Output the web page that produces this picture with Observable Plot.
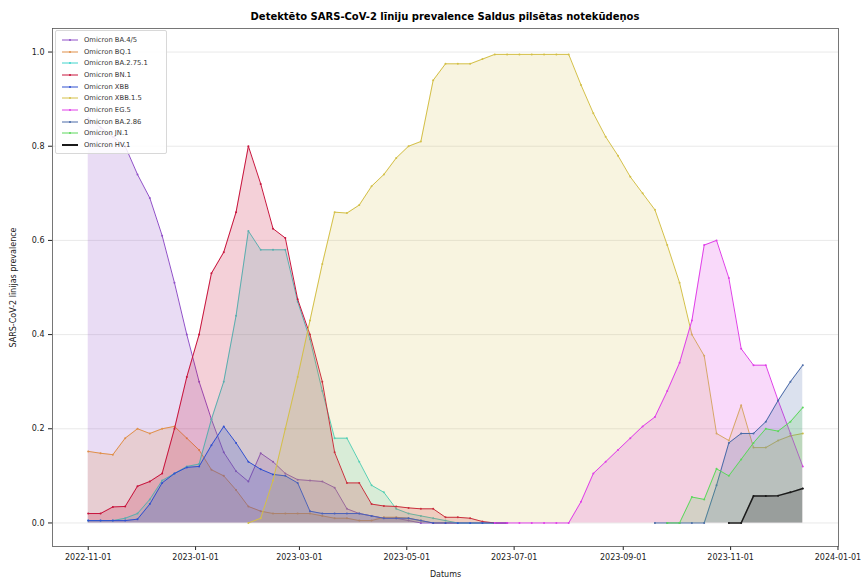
<!DOCTYPE html>
<html><head><meta charset="utf-8">
<script src="https://cdn.jsdelivr.net/npm/d3@7"></script>
<script src="https://cdn.jsdelivr.net/npm/@observablehq/plot@0.6"></script>
<style>
body{margin:0;background:#fff;font-family:"DejaVu Sans",sans-serif;}
#wrap{position:relative;width:863px;height:577px;overflow:hidden;background:#fff;}
#title{position:absolute;left:52px;width:786px;top:11px;text-align:center;font-weight:bold;font-size:10px;color:#000;white-space:nowrap;}
#chart{position:absolute;left:0;top:24px;}
#legend{position:absolute;left:55px;top:30px;width:110px;padding:3px 0 2px 0;background:rgba(255,255,255,0.85);border:1px solid #d8d8d8;border-radius:2px;}
.row{display:flex;align-items:center;height:11.7px;font-size:6.8px;color:#333;white-space:nowrap;}
.row svg{margin-left:6px;margin-right:6px;}
</style></head>
<body><div id="wrap"><div id="title">Detektēto SARS-CoV-2 līniju prevalence Saldus pilsētas notekūdeņos</div><div id="chart"></div><div id="legend"></div></div>
<script>
const dates = ["2022-11-01","2022-11-08","2022-11-15","2022-11-22","2022-11-29","2022-12-06","2022-12-13","2022-12-20","2022-12-27",
"2023-01-03","2023-01-10","2023-01-17","2023-01-24","2023-01-31","2023-02-07","2023-02-14","2023-02-21","2023-02-28",
"2023-03-07","2023-03-14","2023-03-21","2023-03-28","2023-04-04","2023-04-11","2023-04-18","2023-04-25",
"2023-05-02","2023-05-09","2023-05-16","2023-05-23","2023-05-30","2023-06-06","2023-06-13","2023-06-20","2023-06-27",
"2023-07-04","2023-07-11","2023-07-18","2023-07-25","2023-08-01","2023-08-08","2023-08-15","2023-08-22","2023-08-29",
"2023-09-05","2023-09-12","2023-09-19","2023-09-26","2023-10-03","2023-10-10","2023-10-17","2023-10-24","2023-10-31",
"2023-11-07","2023-11-14","2023-11-21","2023-11-28","2023-12-05","2023-12-12"];

const seriesNames = ["Omicron BA.4/5","Omicron BQ.1","Omicron BA.2.75.1","Omicron BN.1","Omicron XBB","Omicron XBB.1.5","Omicron EG.5","Omicron BA.2.86","Omicron JN.1","Omicron HV.1"];
const seriesColors = ["#9050c8","#e0904a","#40d4cc","#c8143c","#3050d0","#d4c048","#e040e8","#4a6aa8","#5cd85c","#1a1a1a"];
const yTicks = [0, 0.2, 0.4, 0.6, 0.8, 1.0];

const BA45 = [0.86,0.84,0.82,0.80,0.74,0.69,0.61,0.51,0.40,0.30,0.22,0.15,0.11,0.088,0.148,0.13,0.105,0.092,0.09,0.088,0.075,0.03,0.02,0.015,0.01,0.01,0.005,0,0,0,0,0,0,0,0,...Array(24).fill(null)];
const BQ1 = [0.152,0.148,0.145,0.18,0.20,0.19,0.20,0.205,0.18,0.155,0.113,0.10,0.07,0.035,0.025,0.02,0.02,0.02,0.02,0.015,0.01,0.01,0.005,0.005,0.012,0.012,0.01,0.005,0,0,0,0,0,0,0,...Array(24).fill(null)];
const BA275 = [0.005,0.005,0.005,0.01,0.02,0.05,0.09,0.105,0.12,0.125,0.22,0.30,0.44,0.62,0.58,0.58,0.58,0.47,0.39,0.28,0.18,0.18,0.13,0.08,0.065,0.03,0.02,0.015,0.01,0.005,0,0,0,0,0,...Array(24).fill(null)];
const BN1 = [0.02,0.02,0.034,0.035,0.078,0.088,0.105,0.20,0.31,0.40,0.53,0.575,0.66,0.80,0.72,0.625,0.605,0.475,0.40,0.30,0.15,0.085,0.085,0.04,0.036,0.035,0.032,0.03,0.03,0.012,0.012,0.01,0.003,0,0,...Array(24).fill(null)];
const XBB = [0.005,0.005,0.005,0.005,0.008,0.04,0.085,0.105,0.118,0.12,0.165,0.205,0.17,0.13,0.114,0.103,0.10,0.085,0.025,0.02,0.02,0.02,0.02,0.015,0.01,0.01,0.01,0.005,0,0,0,0,0,0,0,...Array(24).fill(null)];
const XBB15 = [...Array(13).fill(null),0,0.01,0.09,0.2,0.31,0.43,0.55,0.66,0.658,0.675,0.715,0.74,0.775,0.80,0.81,0.94,0.975,0.975,0.975,0.985,0.995,0.995,0.995,0.995,0.995,0.995,0.995,0.93,0.87,0.82,0.78,0.735,0.70,0.665,0.59,0.51,0.40,0.355,0.19,0.175,0.25,0.16,0.16,0.175,0.185,0.19];
const EG5 = [...Array(33).fill(null),0,0,0,0,0,0,0,0.045,0.105,0.13,0.155,0.18,0.205,0.225,0.28,0.34,0.43,0.59,0.60,0.52,0.37,0.335,0.335,0.26,0.19,0.12];
const BA286 = [...Array(46).fill(null),0,0,0,0,0,0.08,0.17,0.19,0.19,0.215,0.26,0.30,0.335];
const JN1 = [...Array(47).fill(null),0,0,0.055,0.05,0.115,0.10,0.135,0.17,0.20,0.195,0.215,0.245];
const HV1 = [...Array(52).fill(null),0,0,0.057,0.057,0.058,0.065,0.073];

const seriesValues = [BA45,BQ1,BA275,BN1,XBB,XBB15,EG5,BA286,JN1,HV1];

const parse = d3.utcParse("%Y-%m-%d");
const table = [];
seriesValues.forEach((vals, i) => {
  vals.forEach((v, k) => { if (v !== null) table.push({series: seriesNames[i], date: parse(dates[k]), value: v}); });
});

const d0 = parse(dates[0]), d1 = parse(dates[dates.length-1]);
const pad = (d1 - d0) * 0.05;

const marks = [Plot.gridY(yTicks, {stroke: "#b0b0b0", strokeOpacity: 0.35, strokeWidth: 0.8})];
seriesNames.forEach((s, i) => {
  const sub = table.filter(d => d.series === s);
  marks.push(Plot.areaY(sub, {x: "date", y: "value", fill: seriesColors[i], fillOpacity: s === "Omicron XBB.1.5" ? 0.17 : 0.2}));
  marks.push(Plot.lineY(sub, {x: "date", y: "value", stroke: seriesColors[i], strokeWidth: s === "Omicron HV.1" ? 1.5 : 1}));
  marks.push(Plot.dot(sub, {x: "date", y: "value", fill: seriesColors[i], r: 1}));
});
marks.push(Plot.axisX({ticks: d3.utcMonth.every(2), tickFormat: d3.utcFormat("%Y-%m-%d"), tickSize: 4, tickPadding: 4, fontSize: 8, label: "Datums", labelAnchor: "center", labelArrow: "none", labelOffset: 30}));
marks.push(Plot.axisY(yTicks, {tickFormat: d3.format(".1f"), tickSize: 4, tickPadding: 4, fontSize: 8, label: "SARS-CoV-2 līnijas prevalence", labelAnchor: "center", labelArrow: "none", labelOffset: 42}));
marks.push(Plot.frame({stroke: "#555", strokeWidth: 0.8}));

const chart = Plot.plot({
  width: 863, height: 553,
  marginLeft: 52, marginRight: 25, marginTop: 4, marginBottom: 31,
  style: {fontFamily: "DejaVu Sans", fontSize: "8px", color: "#222", background: "#fff"},
  x: {type: "utc", domain: [new Date(+d0 - pad), new Date(+d1 + pad)]},
  y: {domain: [-0.05, 1.05]},
  marks
});
document.getElementById("chart").appendChild(chart);

const lg = document.getElementById("legend");
seriesNames.forEach((s, i) => {
  const row = document.createElement("div");
  row.className = "row";
  const w = s === "Omicron HV.1" ? 2 : 1;
  row.innerHTML = `<svg width="16" height="6"><line x1="0" y1="3" x2="16" y2="3" stroke="${seriesColors[i]}" stroke-width="${w}"/><circle cx="8" cy="3" r="1" fill="${seriesColors[i]}"/></svg><span>${s}</span>`;
  lg.appendChild(row);
});
</script></body></html>
